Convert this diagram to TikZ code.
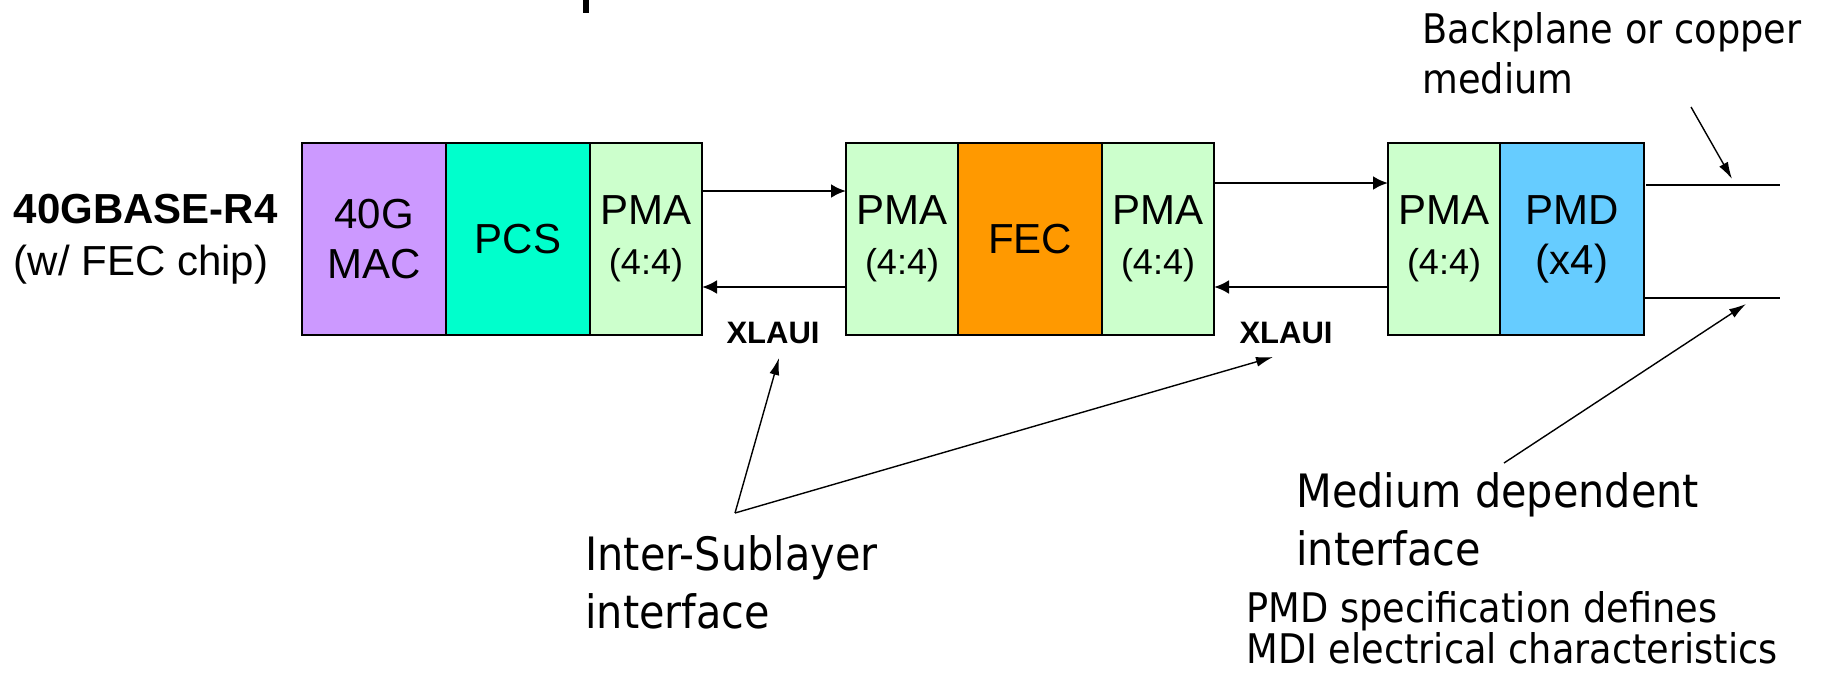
\documentclass[tikz,border=0pt]{standalone}
\usepackage{fontspec}
\setmainfont{Liberation Sans}
\newfontfamily\notefont{DejaVu Sans}[FakeStretch=0.9]
\usepackage{tikz}
\usetikzlibrary{positioning, arrows.meta}
\definecolor{colorM}{HTML}{CC99FF}
\definecolor{colorC}{HTML}{00FFCC}
\definecolor{colorA}{HTML}{CCFFCC}
\definecolor{colorE}{HTML}{FF9900}
\definecolor{colorD}{HTML}{66CCFF}
\newcommand\ratiofont{\fontsize{18}{20}\selectfont}

\begin{document}
\begin{tikzpicture}[x=0.5pt, y=-0.5pt,
    sublayer/.style={draw, line width=1pt, minimum height=96pt, inner sep=0pt, outer sep=0pt,
        align=center, font=\fontsize{21}{25}\selectfont},
    widebox/.style={sublayer, minimum width=72pt},
    narrowbox/.style={sublayer, minimum width=56pt},
    link/.style={line width=1.35pt, -{Latex[length=7.5pt, width=7pt]}},
    callout/.style={line width=0.7pt, -{Latex[length=8.5pt, width=5pt]}},
    bignote/.style={inner sep=0pt, align=left, font=\notefont\fontsize{23}{29}\selectfont},
    smallnote/.style={inner sep=0pt, align=left, font=\notefont\fontsize{20.4}{25}\selectfont},
    xlaui/.style={inner sep=0pt, font=\bfseries\fontsize{15.5}{18}\selectfont}]
    \useasboundingbox (0,0) rectangle (1824,675);
    \draw[line width=3pt] (586,0) -- (586,13);

    % MAC side
    \node[widebox, fill=colorM] (mac) at (374,239) {40G\\MAC};
    \node[widebox, fill=colorC, right=0pt of mac] (pcs) {PCS};
    \node[narrowbox, fill=colorA, right=0pt of pcs] (pmaA) {PMA\\{\ratiofont (4:4)}};
    \node[left=12pt of mac, inner sep=0pt, align=left, font=\fontsize{21}{26}\selectfont] (phy)
        {\textbf{40GBASE-R4}\\(w/ FEC chip)};

    % FEC chip
    \node[narrowbox, fill=colorA] (pmaB) at (902,239) {PMA\\{\ratiofont (4:4)}};
    \node[widebox, fill=colorE, right=0pt of pmaB] (fec) {FEC};
    \node[narrowbox, fill=colorA, right=0pt of fec] (pmaC) {PMA\\{\ratiofont (4:4)}};

    % PHY side
    \node[narrowbox, fill=colorA] (pmaD) at (1444,239) {PMA\\{\ratiofont (4:4)}};
    \node[widebox, fill=colorD, right=0pt of pmaD] (pmd) {PMD\\(x4)};

    \draw[link] ([yshift=24pt]pmaA.east) -- ([yshift=24pt]pmaB.west);
    \draw[link] ([yshift=-24pt]pmaB.west) -- ([yshift=-24pt]pmaA.east);
    \draw[link] ([yshift=28pt]pmaC.east) -- ([yshift=28pt]pmaD.west);
    \draw[link] ([yshift=-24pt]pmaD.west) -- ([yshift=-24pt]pmaC.east);

    \coordinate (mdiA) at ([xshift=68pt, yshift=27pt]pmd.east);
    \coordinate (mdiB) at ([xshift=68pt, yshift=-29.5pt]pmd.east);
    \draw[line width=1pt] ([xshift=1pt, yshift=27pt]pmd.east) -- (mdiA);
    \draw[line width=1pt] ([yshift=-29.5pt]pmd.east) -- (mdiB);

    \node[xlaui, anchor=base] (xlA) at (773,343) {XLAUI};
    \node[xlaui, anchor=base] (xlB) at (1286,343) {XLAUI};

    % labels underneath
    \node[bignote, anchor=base west] (isl) at (585,628) {Inter-Sublayer\\interface};
    \coordinate (islTop) at (735,513);
    \draw[callout] (islTop) -- ([xshift=3pt, yshift=-7.5pt]xlA.base);
    \draw[callout] (islTop) -- ([xshift=-6.5pt, yshift=-7pt]xlB.base);

    \node[bignote, anchor=base west] (mdi) at (1296,565) {Medium dependent\\interface};
    \coordinate (mdiTail) at (1504,463);
    \draw[callout] (mdiTail) -- ([xshift=-17pt, yshift=-3pt]mdiB);

    \node[smallnote, anchor=base west] (bp) at (1422,93) {Backplane or copper\\medium};
    \coordinate (bpTail) at (1691,107);
    \draw[callout] (bpTail) -- ([xshift=-24pt, yshift=3pt]mdiA);

    \node[smallnote, anchor=base west, font=\notefont\fontsize{20.4}{20.5}\selectfont] (spec) at (1246,663)
        {PMD specification defines\\MDI electrical characteristics};
\end{tikzpicture}
\end{document}
